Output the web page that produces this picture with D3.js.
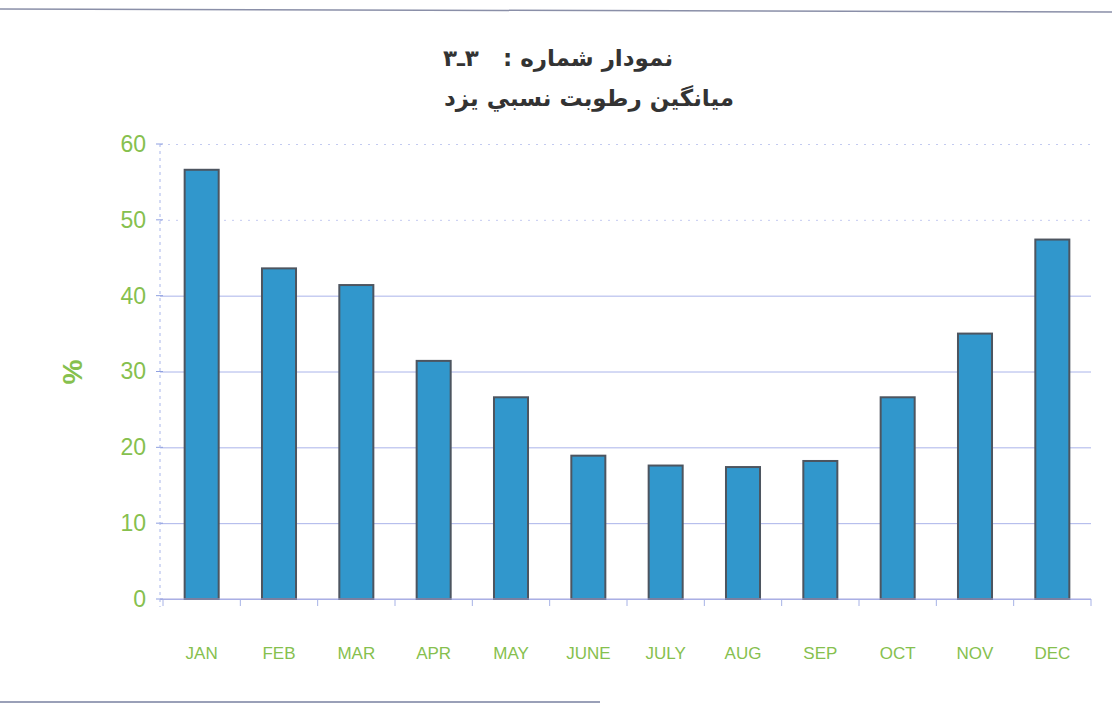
<!DOCTYPE html>
<html>
<head>
<meta charset="utf-8">
<script src="https://cdn.jsdelivr.net/npm/d3@7"></script>
<style>
  body { margin: 0; background: #fff; }
  svg { display: block; }
</style>
</head>
<body>
<div class="content"></div>
<script>
// monthly mean relative humidity, Yazd
var months = ['JAN', 'FEB', 'MAR', 'APR', 'MAY', 'JUNE', 'JULY', 'AUG', 'SEP', 'OCT', 'NOV', 'DEC'];
var humidity = [56.6, 43.6, 41.4, 31.4, 26.6, 18.9, 17.6, 17.4, 18.2, 26.6, 35.0, 47.4];
var yTicks = [0, 10, 20, 30, 40, 50, 60];
var titleLines = ['نمودار شماره :\u00a0\u00a0\u00a0۳ـ۳', 'ميانگين رطوبت نسبي يزد'];

var data = months.map(function(m, i) {
  return { name: m, value: humidity[i] };
});

var svgWidth = 1112, svgHeight = 705;
var margin = {left: 163, top: 144, right: 21, bottom: 106},
  width = svgWidth - margin.left - margin.right,
  height = svgHeight - margin.top - margin.bottom;

var svg = d3.select('.content')
  .append('svg')
  .attr('width', svgWidth)
  .attr('height', svgHeight);

// scan frame lines
svg.append('line')
  .attr('x1', 0).attr('x2', svgWidth)
  .attr('y1', 9).attr('y2', 12)
  .attr('stroke', '#8a8fa8').attr('stroke-width', 1.5);
svg.append('line')
  .attr('x1', 0).attr('x2', 600)
  .attr('y1', 702).attr('y2', 702)
  .attr('stroke', '#9aa0b8').attr('stroke-width', 2);

var green = '#86c04e';

svg.selectAll('.title')
  .data(titleLines)
  .enter()
  .append('text')
  .attr('class', 'title')
  .attr('x', function(d, i) { return i === 0 ? 558 : 589; })
  .attr('y', function(d, i) { return 66 + i * 40; })
  .attr('text-anchor', 'middle')
  .attr('direction', 'rtl')
  .style('font-family', '"DejaVu Sans", sans-serif')
  .style('font-weight', 'bold')
  .style('font-size', '23px')
  .style('fill', '#333')
  .text(function(d) { return d; });

var g = svg.append('g')
  .attr('transform', 'translate(' + margin.left + ',' + margin.top + ')');

var y = d3.scaleLinear().range([height, 0]).domain([0, 60]);

var x = d3.scaleBand().range([0, width])
  .paddingInner(0.56)
  .paddingOuter(0.28)
  .domain(months);

// gridlines
var axisY = g.append('g')
  .attr('class', 'axis axis--y')
  .attr('transform', 'translate(-3,0)')
  .call(d3.axisLeft(y).tickValues(yTicks).tickSize(-width - 3).tickPadding(14));

axisY.selectAll('path').style('display', 'none');
axisY.selectAll('line')
  .attr('stroke', '#aab4ea')
  .attr('stroke-width', 1)
  .attr('stroke-dasharray', function(d) { return d >= 50 ? '2,6' : null; })
  .attr('opacity', function(d) { return d >= 50 ? 0.7 : 1; });
axisY.selectAll('text')
  .style('fill', green)
  .style('font-family', 'Arial, "Liberation Sans", sans-serif')
  .style('font-size', '23px');

// small y tick marks
g.append('g')
  .selectAll('line')
  .data(yTicks)
  .enter()
  .append('line')
  .attr('x1', -7).attr('x2', 0)
  .attr('y1', function(d) { return y(d); })
  .attr('y2', function(d) { return y(d); })
  .attr('stroke', '#8fa0e0');

// vertical axis line
g.append('line')
  .attr('x1', -3).attr('x2', -3)
  .attr('y1', 0).attr('y2', height + 8)
  .attr('stroke', '#a9b6ea')
  .attr('stroke-dasharray', '3,4');

g.append('g')
  .attr('class', 'bars')
  .selectAll('.bar')
  .data(data)
  .enter()
  .append('rect')
  .attr('class', 'bar')
  .attr('x', function(d) { return x(d.name); })
  .attr('y', function(d) { return y(d.value); })
  .attr('width', x.bandwidth())
  .attr('height', function(d) { return height - y(d.value); })
  .attr('fill', '#3197cc')
  .attr('stroke', '#4d5560')
  .attr('stroke-width', 2);

// baseline and category separators
g.append('line')
  .attr('x1', -3).attr('x2', width)
  .attr('y1', height).attr('y2', height)
  .attr('stroke', '#a7a9e0').attr('stroke-width', 1.2);

var step = x.step();
g.append('g')
  .selectAll('line')
  .data(d3.range(months.length + 1))
  .enter()
  .append('line')
  .attr('x1', function(i) { return x(months[0]) - step * 0.28 + i * step; })
  .attr('x2', function(i) { return x(months[0]) - step * 0.28 + i * step; })
  .attr('y1', height).attr('y2', height + 7)
  .attr('stroke', '#a7b2e6');

var axisX = g.append('g')
  .attr('class', 'axis axis--x')
  .attr('transform', 'translate(0,' + height + ')')
  .call(d3.axisBottom(x).tickSize(0).tickPadding(48));

axisX.selectAll('path').style('display', 'none');
axisX.selectAll('text')
  .style('fill', green)
  .style('font-family', 'Arial, "Liberation Sans", sans-serif')
  .style('font-size', '17px');

svg.append('text')
  .attr('transform', 'translate(82,372) rotate(-90)')
  .attr('text-anchor', 'middle')
  .style('fill', green)
  .style('font-family', 'Arial, "Liberation Sans", sans-serif')
  .style('font-size', '28px')
  .style('font-weight', 'bold')
  .text('%');
</script>
</body>
</html>
